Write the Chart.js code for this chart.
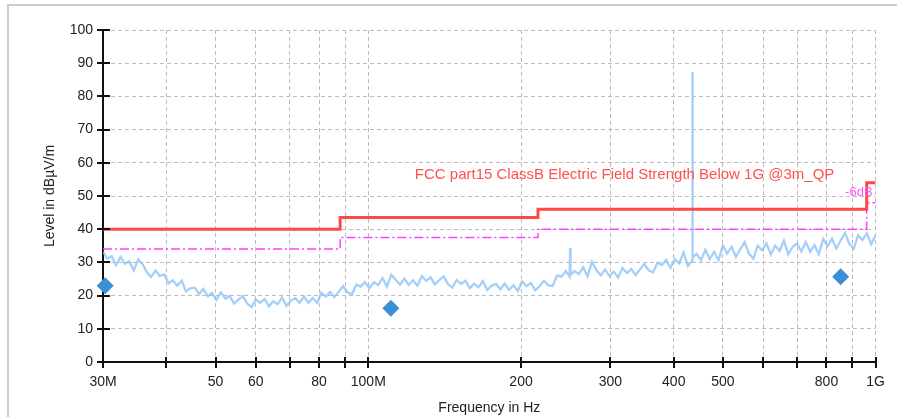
<!DOCTYPE html>
<html>
<head>
<meta charset="utf-8">
<title>Radiated emission scan</title>
<script src="https://cdn.jsdelivr.net/npm/chart.js@4.4.1/dist/chart.umd.min.js"></script>
<style>
    html, body { margin: 0; padding: 0; background: #fff; }
    #wrap { position: relative; width: 897px; height: 417px; overflow: hidden; }
    #frame {
        position: absolute; left: 7px; top: 4px; width: 1000px; height: 1000px;
        border-top: 2px solid #cdcdcd; border-left: 2px solid #cdcdcd;
    }
    #chart { position: absolute; left: 0; top: 0; }
</style>
</head>
<body>
<div id="wrap">
    <div id="frame"></div>
    <canvas id="chart" width="897" height="417"></canvas>
</div>
<script>
// Barrido de emisiones radiadas (MHz / dBµV/m)
const scanFreq = [
    30, 30.6, 31.2, 31.8, 32.5, 33.1, 33.8, 34.5, 35.2, 35.9,
    36.6, 37.3, 38.1, 38.8, 39.6, 40.4, 41.2, 42, 42.9, 43.7,
    44.6, 45.5, 46.4, 47.3, 48.3, 49.2, 50.2, 51.2, 52.3, 53.3,
    54.4, 55.5, 56.6, 57.7, 58.9, 60, 61.2, 62.5, 63.7, 65,
    66.3, 67.6, 69, 70.4, 71.8, 73.2, 74.7, 76.2, 77.7, 79.3,
    80.8, 82.5, 84.1, 85.8, 87.5, 89.2, 91, 92.9, 94.7, 96.6,
    98.5, 100.5, 102.5, 104.6, 106.7, 108.8, 111, 113.2, 115.5, 117.8,
    120.1, 122.5, 125, 127.5, 130, 132.6, 135.3, 138, 140.8, 143.6,
    146.4, 149.4, 152.3, 155.4, 158.5, 161.7, 164.9, 168.2, 171.6, 175,
    178.5, 182.1, 185.7, 189.4, 193.2, 197.1, 201, 205, 209.1, 213.3,
    217.6, 222, 226.4, 230.9, 235.5, 240.2, 245,
    249.4, 249.9, 250.4,
    254.9, 260, 265.2, 270.5, 276, 281.5, 287.1, 292.8, 298.7, 304.7,
    310.8, 317, 323.3, 329.8, 336.4, 343.1, 350, 357, 364.1, 371.4,
    378.8, 386.4, 394.1, 402, 410, 418.2, 426.6,
    434.8, 435.4, 436.0,
    443.8, 452.7, 461.7, 471, 480.4, 490, 499.8, 509.8, 520, 530.4,
    541, 551.8, 562.9, 574.1, 585.6, 597.3, 609.3, 621.5, 633.9, 646.6,
    659.5, 672.7, 686.1, 699.9, 713.9, 728.1, 742.7, 757.5, 772.7, 788.2,
    803.9, 820, 836.4, 853.1, 870.2, 887.6, 905.3, 923.4, 941.9, 960.7,
    980, 1000
];
const scanLevel = [
    33.2, 31.1, 31.9, 29.2, 31.6, 29.6, 30.3, 27.6, 30.9, 29.5,
    27.0, 25.6, 27.6, 25.9, 26.4, 23.7, 24.6, 23.0, 24.5, 21.3,
    22.2, 22.4, 20.5, 22.0, 19.8, 20.8, 18.7, 21.0, 19.1, 19.9,
    17.6, 18.8, 19.9, 17.6, 16.5, 18.9, 17.8, 19.0, 16.8, 18.3,
    17.4, 19.4, 16.9, 18.5, 19.2, 17.8, 19.7, 17.8, 19.3, 17.8,
    20.9, 19.7, 21.1, 19.5, 21.2, 22.9, 21.0, 20.4, 23.3, 22.7,
    24.1, 22.2, 24.0, 23.2, 25.3, 22.7, 26.3, 24.8, 23.3, 25.1,
    23.2, 24.6, 23.0, 25.9, 24.4, 25.5, 23.4, 24.7, 25.8, 23.4,
    22.4, 24.7, 23.5, 24.5, 22.2, 23.6, 22.5, 24.4, 21.7, 23.0,
    23.5, 21.9, 23.6, 21.7, 23.1, 21.4, 24.3, 22.8, 23.8, 21.6,
    22.8, 24.5, 23.1, 22.9, 26.1, 25.7, 27.4,
    25.7, 34.3, 26.2,
    27.4, 26.5, 28.5, 25.8, 30.2, 27.7, 26.1, 27.8, 25.9, 27.2,
    25.5, 28.3, 26.8, 28.0, 26.2, 27.9, 29.5, 27.6, 27.0, 29.9,
    29.2, 30.7, 28.3, 31.0, 29.7, 33.0, 28.9,
    30.5, 87.4, 31.4,
    32.6, 30.7, 33.8, 31.0, 33.2, 30.6, 35.1, 32.7, 34.7, 31.7,
    34.0, 36.1, 32.6, 31.1, 35.1, 33.6, 35.7, 32.4, 35.0, 33.5,
    36.6, 32.4, 34.7, 35.7, 33.3, 36.2, 33.2, 35.2, 32.5, 37.1,
    34.9, 37.1, 34.2, 36.6, 38.9, 35.5, 34.1, 38.2, 36.7, 38.8,
    35.5, 38.1
];

// Límite FCC parte 15 clase B y margen de -6 dB
const limitFreq = [30, 88, 216, 960, 1000];
const limitLevel = [40, 43.5, 46, 54, 54];
const marginLevel = [34, 37.5, 40, 48, 48];

// Mediciones cuasi-pico
const qpFreq = [30.3, 110.8, 853];
const qpLevel = [23, 16.2, 25.7];

// Marcas del eje de frecuencia
const xTickValues = [30, 40, 50, 60, 70, 80, 90, 100, 200, 300, 400, 500, 600, 700, 800, 900, 1000];
const xTickLabels = ['30M', '', '50', '60', '', '80', '', '100M', '200', '300', '400', '500', '', '', '800', '', '1G'];

const limitTitle = 'FCC part15 ClassB Electric Field Strength Below 1G @3m_QP';
const marginTitle = '-6dB';

const toPoints = (xs, ys) => xs.map((f, i) => ({ x: f, y: ys[i] }));

Chart.defaults.font.family = '"Liberation Sans", Arial, sans-serif';
Chart.defaults.font.size = 14;
Chart.defaults.color = '#222';

// Marcas de escala que cruzan el eje
const crossTicks = {
    id: 'crossTicks',
    afterDraw(chart) {
        const ctx = chart.ctx;
        const xs = chart.scales.x;
        const ys = chart.scales.y;
        const area = chart.chartArea;
        ctx.save();
        ctx.strokeStyle = '#111';
        ctx.lineWidth = 2;
        ctx.beginPath();
        xs.ticks.forEach(t => {
            const px = Math.round(xs.getPixelForValue(t.value));
            ctx.moveTo(px, area.bottom - 5);
            ctx.lineTo(px, area.bottom + 6);
        });
        ys.ticks.forEach(t => {
            const py = Math.round(ys.getPixelForValue(t.value));
            ctx.moveTo(area.left - 6, py);
            ctx.lineTo(area.left + 7, py);
        });
        ctx.stroke();
        ctx.restore();
    }
};

// Textos de las líneas límite
const limitLabels = {
    id: 'limitLabels',
    afterDatasetsDraw(chart) {
        const ctx = chart.ctx;
        const { x, y } = chart.scales;
        ctx.save();
        ctx.textBaseline = 'middle';
        ctx.textAlign = 'left';
        ctx.font = '15px "Liberation Sans", Arial, sans-serif';
        ctx.fillStyle = '#ff5050';
        ctx.fillText(limitTitle, x.getPixelForValue(123.5), y.getPixelForValue(56.3));
        ctx.textAlign = 'right';
        ctx.font = '13px "Liberation Sans", Arial, sans-serif';
        ctx.fillStyle = '#ff55ff';
        ctx.fillText(marginTitle, x.getPixelForValue(986), y.getPixelForValue(51));
        ctx.restore();
    }
};

new Chart(document.getElementById('chart'), {
    type: 'line',
    data: {
        datasets: [
            {
                label: 'QP',
                order: 0,
                data: toPoints(qpFreq, qpLevel),
                showLine: false,
                pointStyle: 'rectRot',
                pointRadius: 8.5,
                pointBorderWidth: 0,
                pointBackgroundColor: '#3a8fd6',
                clip: false
            },
            {
                label: 'Limit',
                order: 1,
                data: toPoints(limitFreq, limitLevel),
                stepped: 'before',
                borderColor: '#ff4848',
                borderWidth: 3,
                pointRadius: 0
            },
            {
                label: 'Margin',
                order: 2,
                data: toPoints(limitFreq, marginLevel),
                stepped: 'before',
                borderColor: '#ff40ff',
                borderWidth: 1.5,
                borderDash: [9, 3, 2, 3],
                pointRadius: 0
            },
            {
                label: 'Scan',
                order: 3,
                data: toPoints(scanFreq, scanLevel),
                borderColor: 'rgba(140, 195, 247, 0.8)',
                borderWidth: 2.3,
                pointRadius: 0,
                tension: 0
            }
        ]
    },
    options: {
        responsive: false,
        animation: false,
        events: [],
        layout: { padding: { left: 0, right: 21, top: 30, bottom: 0 } },
        plugins: {
            legend: { display: false },
            tooltip: { enabled: false }
        },
        scales: {
            x: {
                type: 'logarithmic',
                min: 30,
                max: 1000,
                afterBuildTicks: scale => {
                    scale.ticks = xTickValues.map(v => ({ value: v }));
                },
                afterFit: scale => { scale.height = 55; },
                ticks: {
                    autoSkip: false,
                    maxRotation: 0,
                    padding: 12,
                    color: '#222',
                    callback: (value, index) => xTickLabels[index]
                },
                grid: { color: '#bdbdbd', lineWidth: 1, drawTicks: false },
                border: { display: true, color: '#111', width: 2, dash: [4, 3] },
                title: {
                    display: true,
                    text: 'Frequency in Hz',
                    color: '#222',
                    font: { size: 14 },
                    padding: { top: 0, bottom: 0 }
                }
            },
            y: {
                min: 0,
                max: 100,
                afterFit: scale => { scale.width = 103; },
                ticks: {
                    stepSize: 5,
                    padding: 10,
                    color: '#222',
                    callback: v => (v % 10 === 0 ? v : '')
                },
                grid: { color: '#bdbdbd', lineWidth: 1, drawTicks: false },
                border: { display: true, color: '#111', width: 2, dash: [4, 3] },
                title: {
                    display: true,
                    text: 'Level in dBµV/m',
                    color: '#222',
                    font: { size: 14 },
                    padding: { top: 42, bottom: 0 }
                }
            }
        }
    },
    plugins: [crossTicks, limitLabels]
});
</script>
</body>
</html>
